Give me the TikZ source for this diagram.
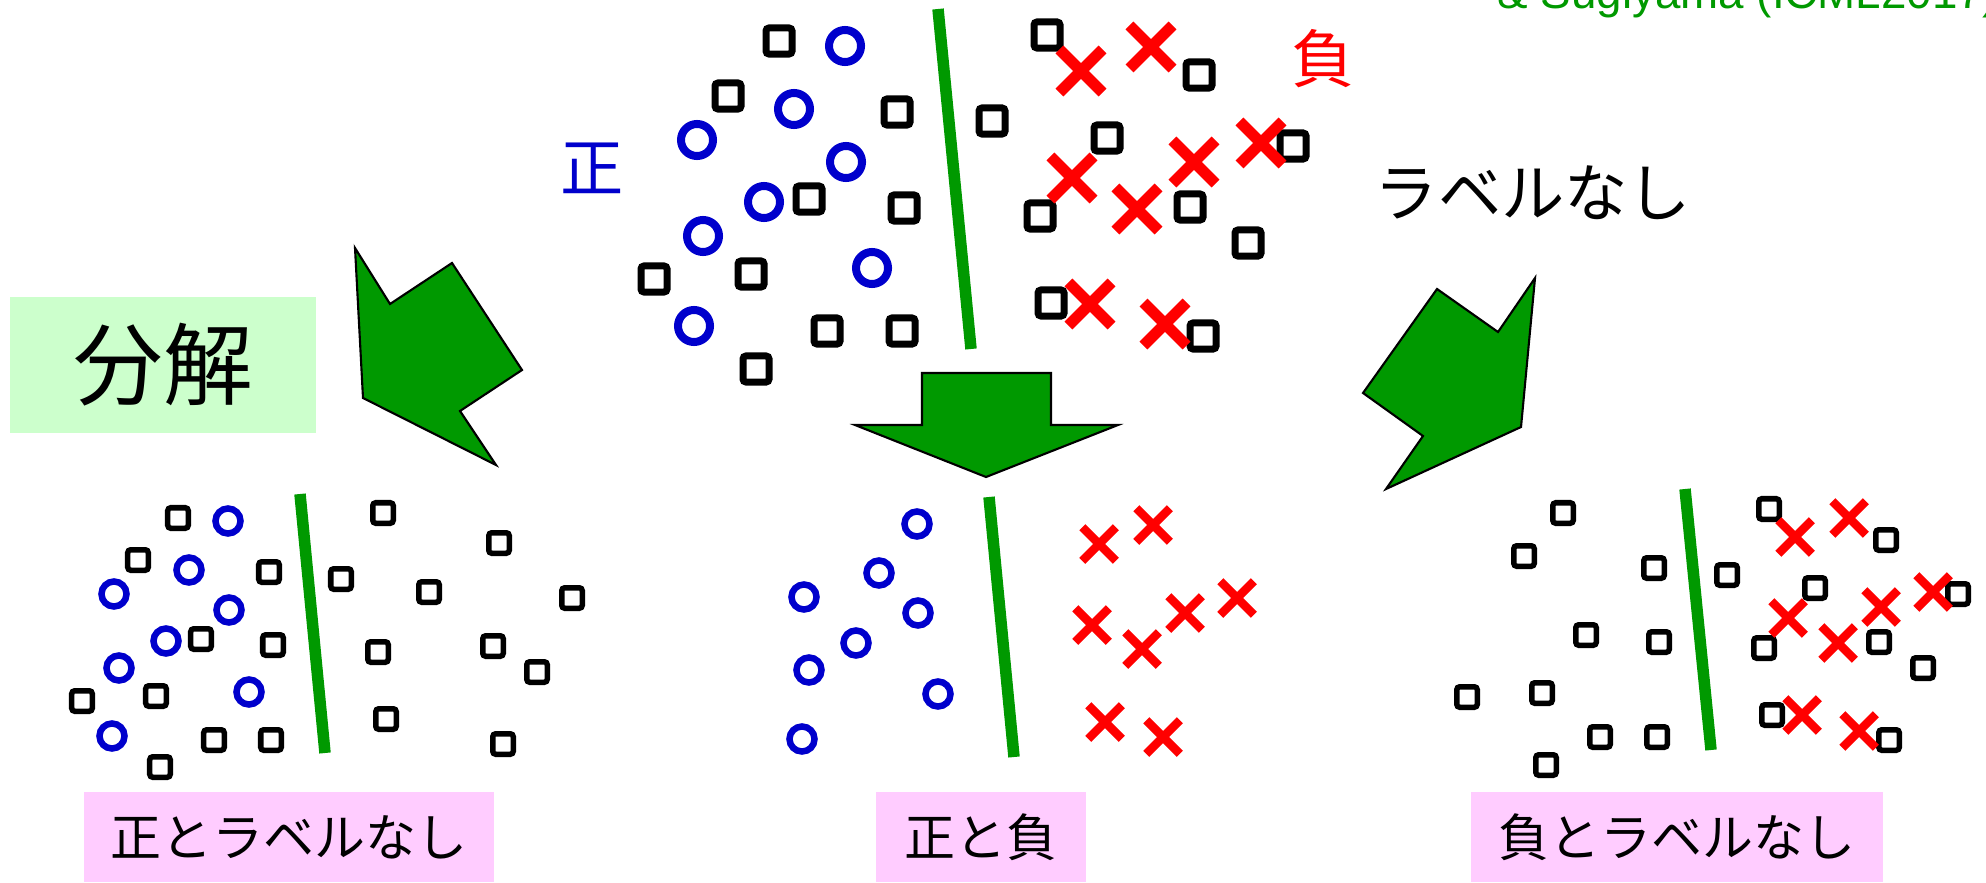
\documentclass[tikz,border=0pt]{standalone}
\usepackage{fontspec}
\setmainfont{Liberation Sans}
\newfontfamily\jpfont{Noto Sans CJK JP}
\usepackage{xcolor}
\usepackage{tikz}
\usetikzlibrary{
	shapes.misc							% Cross out shape for the negative samples
}
\definecolor{posblue}{HTML}{0000CC}
\definecolor{negred}{HTML}{FF0000}
\definecolor{sepgreen}{HTML}{009900}
\definecolor{boxgreen}{HTML}{CCFFCC}
\definecolor{boxpink}{HTML}{FFCCFF}

\begin{document}
\begin{tikzpicture}
		[
		,x=0.01cm, y=-0.01cm
		,unl_big/.style = {
			,draw=black
			,rectangle
			,rounded corners=0.03cm
			,minimum size=0.26cm
			,inner sep=0pt
			,line width=0.07cm}
		,pos_big/.style = {
			,draw=posblue
			,circle
			,minimum size=0.32cm
			,inner sep=0pt
			,line width=0.08cm}
		,neg_big/.style = {
			,draw=negred
			,cross out
			,minimum size=0.32cm
			,inner sep=0pt
			,line width=0.11cm}
		,unl_small/.style = {unl_big, minimum size=0.205cm, line width=0.055cm}
		,pos_small/.style = {pos_big, minimum size=0.25cm, line width=0.065cm}
		,neg_small/.style = {neg_big, minimum size=0.25cm, line width=0.085cm}
		,sep_line/.style = {
			,draw=sepgreen
			,line width=0.115cm}
		,block_arrow/.style = {
			,fill=sepgreen
			,draw=black
			,line width=0.6pt}
		,jp_label/.style = {
			,inner sep=0pt
			,font=\jpfont\fontsize{18pt}{22pt}\selectfont}
		,caption_box/.style = {
			,fill=boxpink
			,minimum height=0.9cm
			,inner sep=0pt
			,font=\jpfont\fontsize{14.5pt}{18pt}\selectfont}
		]
		\useasboundingbox (0,0) rectangle (1986,882);
		\clip (0,0) rectangle (1986,882);

		% Citation, cut by the page edge
		\node[anchor=base west, inner sep=0pt, text=sepgreen, font=\fontsize{13pt}{15pt}\selectfont] (cite) at (1497,8.5) {\& Sugiyama (ICML2017)};

		% Full data set
		\foreach \px/\py [count=\i] in {779/41, 728/96, 897/112, 992/121, 809/199, 904/208, 654/279, 751/274, 827/331, 902/331, 756/369, 1047/35, 1199/75, 1107/138, 1293/146, 1040/216, 1190/207, 1248/243, 1051/303, 1203/336}
			\node[unl_big] (tu\i) at (\px,\py) {};
		\foreach \px/\py [count=\i] in {845/46, 794/109, 697/140, 846/162, 764/202, 703/236, 872/268, 694/326}
			\node[pos_big] (tp\i) at (\px,\py) {};
		\foreach \px/\py [count=\i] in {1081/71, 1151/47, 1261/143, 1072/178, 1194/162, 1137/209, 1090/304, 1165/324}
			\node[neg_big] (tn\i) at (\px,\py) {};
		\draw[sep_line] (938,9) -- (971,349);

		\node[jp_label, text=posblue] (lab_pos) at (592,168) {正};
		\node[jp_label, text=negred]  (lab_neg) at (1323,59) {負};
		\node[jp_label]               (lab_unl) at (1533,193) {ラベルなし};

		% Decomposition arrows
		\draw[block_arrow] (355,248) -- (390,304) -- (452,263) -- (522,370) -- (460,411) -- (496,465) -- (363,398) -- cycle;
		\draw[block_arrow] (922,373) -- (1051,373) -- (1051,425) -- (1118,425) -- (986,477) -- (855,425) -- (922,425) -- cycle;
		\draw[block_arrow] (1437,289) -- (1498,332) -- (1535,278) -- (1521,427) -- (1386,489) -- (1423,436) -- (1363,393) -- cycle;

		\node[fill=boxgreen, minimum width=3.06cm, minimum height=1.36cm, inner sep=0pt, font=\jpfont\fontsize{25.5pt}{30pt}\selectfont] (bunkai) at (163,365) {分解};

		% Positive and unlabeled
		\foreach \px/\py [count=\i] in {178/518, 138/560, 269/572, 341/579, 383/513, 499/543, 429/592, 572/598, 201/639, 273/645, 378/652, 493/646, 537/672, 82/701, 156/696, 214/740, 271/740, 160/767, 386/719, 503/744}
			\node[unl_small] (lu\i) at (\px,\py) {};
		\foreach \px/\py [count=\i] in {228/521, 189/570, 114/594, 229/610, 166/641, 119/668, 249/692, 112/736}
			\node[pos_small] (lp\i) at (\px,\py) {};
		\draw[sep_line] (300,494) -- (325,753);

		% Positive and negative
		\foreach \px/\py [count=\i] in {917/524, 879/573, 804/597, 918/613, 856/643, 809/670, 938/694, 802/739}
			\node[pos_small] (mp\i) at (\px,\py) {};
		\foreach \px/\py [count=\i] in {1099/544, 1153/525, 1237/598, 1185/613, 1092/625, 1142/649, 1105/722, 1163/737}
			\node[neg_small] (mn\i) at (\px,\py) {};
		\draw[sep_line] (989,497) -- (1014,757);

		% Negative and unlabeled
		\foreach \px/\py [count=\i] in {1563/513, 1524/556, 1654/568, 1727/575, 1769/509, 1886/540, 1815/588, 1958/594, 1586/635, 1659/642, 1764/648, 1879/642, 1923/668, 1467/697, 1542/693, 1600/737, 1657/737, 1546/765, 1772/715, 1889/740}
			\node[unl_small] (ru\i) at (\px,\py) {};
		\foreach \px/\py [count=\i] in {1795/537, 1849/518, 1933/592, 1881/607, 1788/618, 1838/643, 1802/715, 1859/731}
			\node[neg_small] (rn\i) at (\px,\py) {};
		\draw[sep_line] (1685,489) -- (1711,750);

		% Captions
		\node[caption_box, minimum width=4.1cm]  (cap_pu) at (289,837)  {正とラベルなし};
		\node[caption_box, minimum width=2.1cm]  (cap_pn) at (981,837)  {正と負};
		\node[caption_box, minimum width=4.11cm] (cap_nu) at (1677,837) {負とラベルなし};
	\end{tikzpicture}
\end{document}
